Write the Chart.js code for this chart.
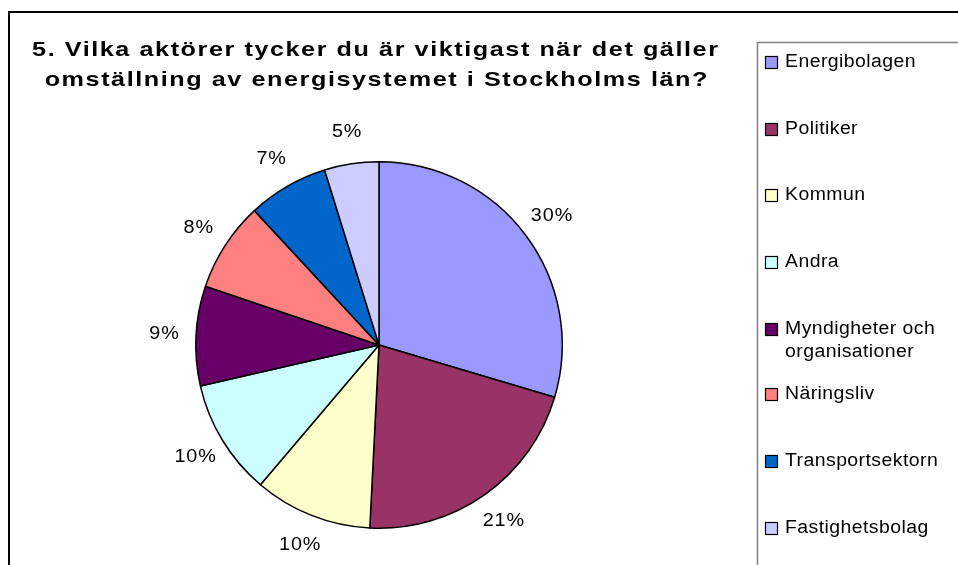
<!DOCTYPE html>
<html>
<head>
<meta charset="utf-8">
<script src="https://cdn.jsdelivr.net/npm/chart.js@4"></script>
<style>
  html, body { margin: 0; padding: 0; background: #fff; }
  #wrap { width: 958px; height: 565px; position: relative; }
</style>
</head>
<body>
<div id="wrap"><canvas id="chart" width="958" height="565"></canvas></div>
<script>
// Chart data
const categories = ['Energibolagen', 'Politiker', 'Kommun', 'Andra',
  ['Myndigheter och', 'organisationer'], 'Näringsliv', 'Transportsektorn', 'Fastighetsbolag'];
const shares = [29.6, 21.2, 10.4, 10.2, 8.8, 7.9, 7.1, 4.8];
const sliceLabels = ['30%', '21%', '10%', '10%', '9%', '8%', '7%', '5%'];
const colors = ['#9999FF', '#993366', '#FFFFCC', '#CCFFFF', '#660066', '#FF8080', '#0066CC', '#CCCCFF'];
const titleLines = ['5. Vilka aktörer tycker du är viktigast när det gäller',
  'omställning av energisystemet i Stockholms län?'];

const font = '"Liberation Sans", Arial, sans-serif';

// draw text with letter spacing and horizontal stretch, centred or left aligned
function spacedText(ctx, text, x, y, spacing, align, sx = 1) {
  ctx.save();
  ctx.letterSpacing = spacing + 'px';
  const w = (ctx.measureText(text).width - spacing) * sx;
  const left = align === 'center' ? x - w / 2 : x;
  ctx.textAlign = 'left';
  ctx.translate(left, y);
  ctx.scale(sx, 1);
  ctx.fillText(text, 0, 0);
  ctx.restore();
}

// Frame, title, legend and percent labels
const decor = {
  id: 'decor',
  beforeDraw(chart) {
    const ctx = chart.ctx;
    ctx.save();
    ctx.fillStyle = '#fff';
    ctx.fillRect(0, 0, chart.width, chart.height);
    // outer frame
    ctx.strokeStyle = '#000';
    ctx.lineWidth = 2;
    ctx.strokeRect(9, 12, 1000, 1000);
    // legend box
    ctx.strokeStyle = '#808080';
    ctx.lineWidth = 1.5;
    ctx.strokeRect(757.5, 42.5, 400, 1000);
    ctx.restore();
  },
  afterDraw(chart) {
    const ctx = chart.ctx;
    ctx.save();
    ctx.fillStyle = '#000';
    ctx.textBaseline = 'middle';

    // title
    ctx.font = 'bold 21px ' + font;
    spacedText(ctx, titleLines[0], 375, 50, 1.3, 'center', 1.2);
    spacedText(ctx, titleLines[1], 376, 80, 1.3, 'center', 1.2);

    // percent labels outside slices
    ctx.font = '18px ' + font;
    const meta = chart.getDatasetMeta(0);
    meta.data.forEach((arc, i) => {
      const mid = (arc.startAngle + arc.endAngle) / 2;
      const r = arc.outerRadius + 32;
      spacedText(ctx, sliceLabels[i], arc.x + Math.cos(mid) * r, arc.y + Math.sin(mid) * r, 0.8, 'center', 1.1);
    });

    // legend
    ctx.font = '18px ' + font;
    const legendY = [62, 129, 195, 262, 329, 394, 461, 528];
    categories.forEach((name, i) => {
      const y = legendY[i];
      ctx.fillStyle = colors[i];
      ctx.fillRect(765, y - 6, 12, 12);
      ctx.strokeStyle = '#000';
      ctx.lineWidth = 1.2;
      ctx.strokeRect(765.5, y - 5.5, 12, 12);
      ctx.fillStyle = '#000';
      const lines = Array.isArray(name) ? name : [name];
      lines.forEach((t, k) => spacedText(ctx, t, 785, y + k * 23, 0.4, 'left', 1.08));
    });
    ctx.restore();
  }
};

new Chart(document.getElementById('chart'), {
  type: 'pie',
  data: {
    labels: categories.map(c => Array.isArray(c) ? c.join(' ') : c),
    datasets: [{
      data: shares,
      backgroundColor: colors,
      borderColor: '#000',
      borderWidth: 1.5
    }]
  },
  options: {
    responsive: false,
    animation: false,
    layout: { padding: { left: 195, right: 395, top: 161, bottom: 36 } },
    plugins: {
      legend: { display: false },
      tooltip: { enabled: false }
    }
  },
  plugins: [decor]
});
</script>
</body>
</html>
